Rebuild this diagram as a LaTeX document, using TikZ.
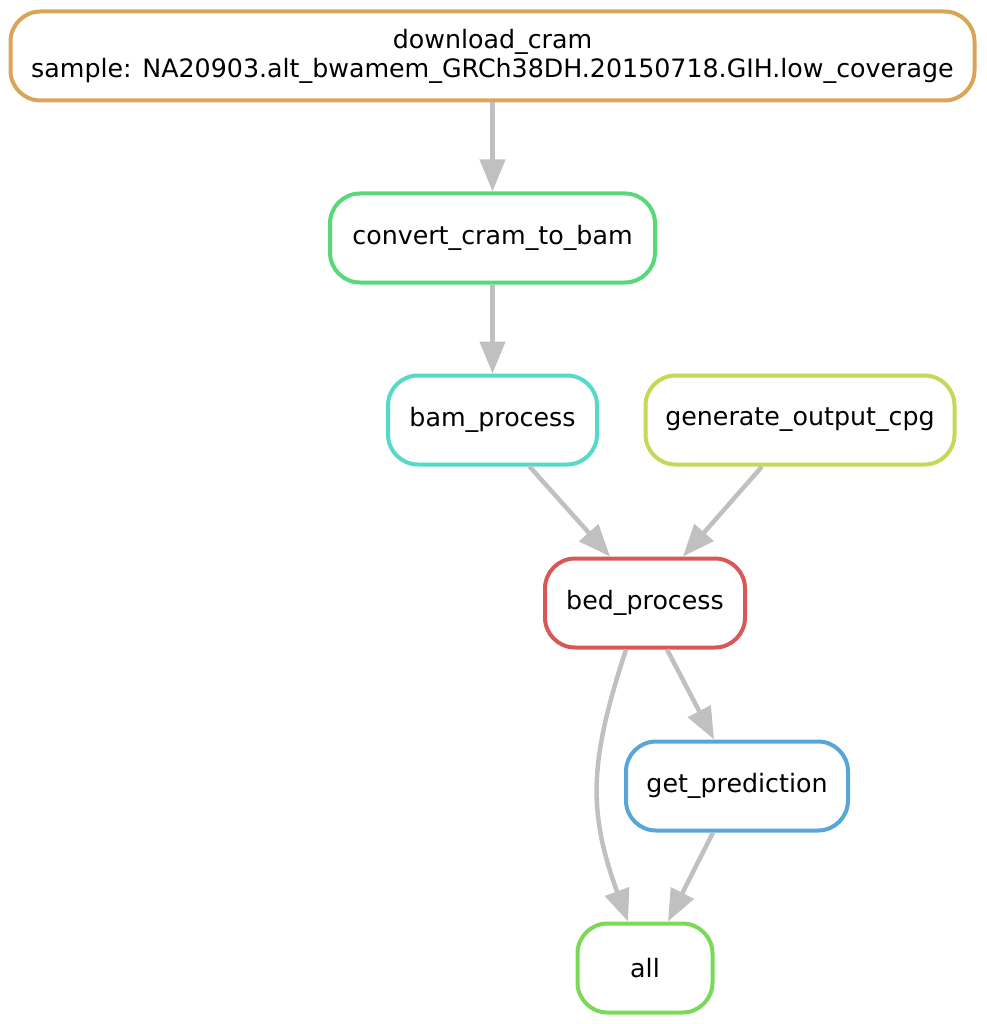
\documentclass[tikz,border=0pt]{standalone}
\usepackage{fontspec}
\setmainfont{DejaVu Sans}
\usepackage{xcolor}
\usetikzlibrary{arrows.meta}

\definecolor{cdownload}{RGB}{217,165,87}
\definecolor{cconvert}{RGB}{87,217,122}
\definecolor{cbam}{RGB}{87,217,200}
\definecolor{cgenerate}{RGB}{196,217,87}
\definecolor{cbed}{RGB}{217,87,87}
\definecolor{cpredict}{RGB}{87,165,217}
\definecolor{call}{RGB}{122,217,87}
\definecolor{cedge}{RGB}{192,192,192}

\begin{document}
\begin{tikzpicture}[
      x=1pt, y=-1pt,
      font=\fontsize{25.3}{29}\selectfont,
      every node/.style = {shape=rectangle, rounded corners=30pt,
        draw, line width=4pt, fill=white, align=center,
        minimum height=89pt, inner sep=0pt},
      edge/.style = {draw=cedge, line width=4.5pt,
        -{Triangle[length=32pt, width=25pt]}},
      wide/.style = {minimum width=#1}
    ]
      \useasboundingbox (0,0) rectangle (986,1024);

      \node[draw=cdownload, wide=964pt] (download) at (492.5,56)
        {download\_cram\\sample: NA20903.alt\_bwamem\_GRCh38DH.20150718.GIH.low\_coverage};
      \node[draw=cconvert, wide=325pt]  (convert)  at (492.5,238) {convert\_cram\_to\_bam};
      \node[draw=cbam, wide=209pt]      (bam)      at (492.5,420) {bam\_process};
      \node[draw=cgenerate, wide=309pt] (generate) at (800,420) {generate\_output\_cpg};
      \node[draw=cbed, wide=200pt]      (bed)      at (645,603) {bed\_process};
      \node[draw=cpredict, wide=222pt]  (predict)  at (737,786) {get\_prediction};
      \node[draw=call, wide=135pt]      (all)      at (645,968) {all};

      \draw[edge] (download.south) -- (convert.north);
      \draw[edge] (convert.south) -- (bam.north);
      \draw[edge] ([xshift=37pt]bam.south) -- ([xshift=-35pt]bed.north);
      \draw[edge] ([xshift=-38pt]generate.south) -- ([xshift=38pt]bed.north);
      \draw[edge] ([xshift=22pt]bed.south) -- ([xshift=-23pt]predict.north);
      \draw[edge] ([xshift=-24pt]predict.south) -- ([xshift=23pt]all.north);
      \draw[edge] ([xshift=-19pt]bed.south)
        .. controls +(-36,110) and +(-41,-112) .. ([xshift=-17pt]all.north);
  \end{tikzpicture}
\end{document}
